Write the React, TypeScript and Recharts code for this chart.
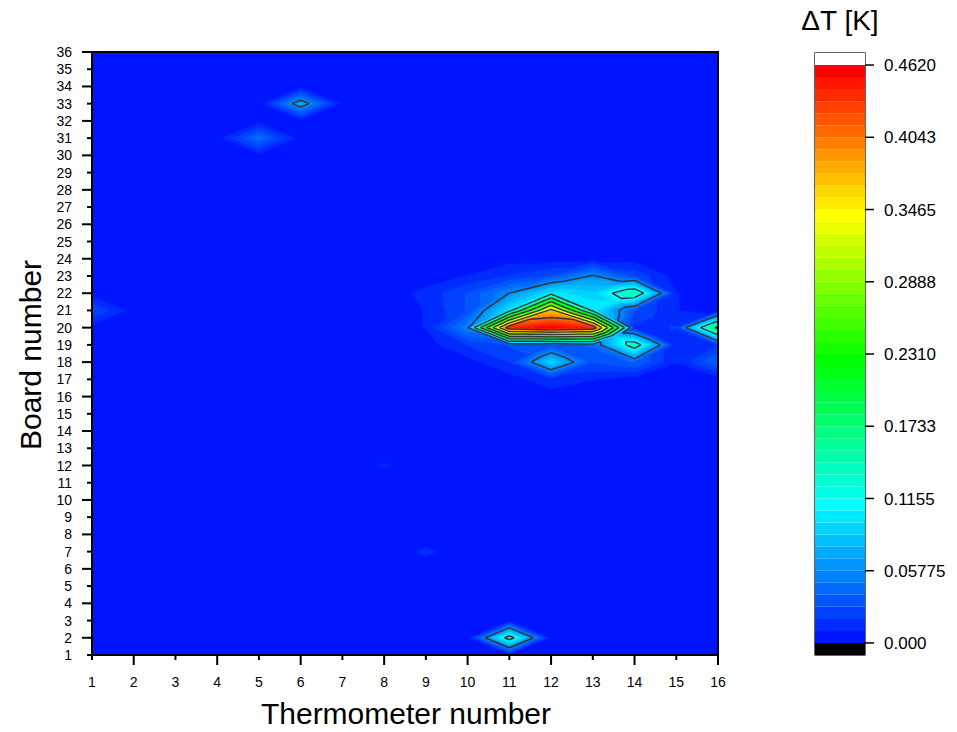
import React from 'react';
import { ScatterChart, Scatter, XAxis, YAxis, BarChart, Bar, useXAxisScale, useYAxisScale, usePlotArea } from 'recharts';

const thermometers = Array.from({ length: 16 }, (_, i) => i + 1);
const boards = Array.from({ length: 36 }, (_, i) => i + 1);

// ΔT everywhere not listed below
const baseDeltaT = 0.005;

// [thermometer, board, ΔT in K] around the hot spot at board 20
const clusterSpots: [number, number, number][] = [
  [10, 23, 0.01], [11, 23, 0.02], [12, 23, 0.03], [13, 23, 0.06], [14, 23, 0.027],
  [9, 22, 0.012], [10, 22, 0.03], [11, 22, 0.058], [12, 22, 0.1], [13, 22, 0.09], [14, 22, 0.145], [15, 22, 0.01],
  [9, 21, 0.01], [10, 21, 0.03], [11, 21, 0.1], [12, 21, 0.365], [13, 21, 0.105], [14, 21, 0.03], [15, 21, 0.01],
  [9, 20, 0.01], [10, 20, 0.055], [11, 20, 0.44], [12, 20, 0.46], [13, 20, 0.44], [14, 20, 0.015], [15, 20, 0.02], [16, 20, 0.185],
  [10, 19, 0.02], [11, 19, 0.03], [12, 19, 0.03], [13, 19, 0.04], [14, 19, 0.135], [15, 19, 0.01], [16, 19, 0.02],
  [11, 18, 0.02], [12, 18, 0.092], [13, 18, 0.03], [14, 18, 0.04], [15, 18, 0.01], [16, 18, 0.04],
  [12, 17, 0.015], [13, 17, 0.01],
];

// small isolated spots
const isolatedSpots: [number, number, number][] = [
  [1, 21, 0.03], [5, 31, 0.045], [6, 33, 0.071], [11, 2, 0.13], [9, 7, 0.0112], [8, 12, 0.0104],
];

const levelCount = 48;
const maxDeltaT = 0.462;
const levelStep = maxDeltaT / levelCount;
const contourLines = [0.05775, 0.1155, 0.17325, 0.231, 0.28875, 0.3465, 0.40425];
const scaleTicks = [0, 0.05775, 0.1155, 0.17325, 0.231, 0.28875, 0.3465, 0.40425, 0.462];
const scaleLabels = ['0.000', '0.05775', '0.1155', '0.1733', '0.2310', '0.2888', '0.3465', '0.4043', '0.4620'];

const rainbow = (t: number) => {
  const c = (v: number) => Math.round(Math.max(0, Math.min(1, v)) * 255);
  let r = 0, g = 0, b = 0;
  if (t <= 0.25) { g = t / 0.25; b = 1; }
  else if (t <= 0.5) { g = 1; b = 1 - (t - 0.25) / 0.25; }
  else if (t <= 0.75) { r = (t - 0.5) / 0.25; g = 1; }
  else { r = 1; g = 1 - (t - 0.75) / 0.25; }
  return `rgb(${c(r)},${c(g)},${c(b)})`;
};
const bandColor = (k: number) => (k >= levelCount ? '#ffffff' : rainbow((k + 1) / levelCount));

// grid of values
const grid: number[][] = boards.map(() => thermometers.map(() => baseDeltaT));
[...clusterSpots, ...isolatedSpots].forEach(([x, y, v]) => { grid[y - 1][x - 1] = v; });
const val = (x: number, y: number) => grid[y - 1][x - 1];

type P = { x: number; y: number; v: number };
const triangles: P[][] = [];
for (let y = 1; y < boards.length; y++) {
  for (let x = 1; x < thermometers.length; x++) {
    const c = [
      { x, y, v: val(x, y) },
      { x: x + 1, y, v: val(x + 1, y) },
      { x: x + 1, y: y + 1, v: val(x + 1, y + 1) },
      { x, y: y + 1, v: val(x, y + 1) },
    ];
    const s = c.map((p) => p.v).sort((a, b) => a - b);
    const m = { x: x + 0.5, y: y + 0.5, v: (s[1] + s[2]) / 2 };
    for (let i = 0; i < 4; i++) triangles.push([c[i], c[(i + 1) % 4], m]);
  }
}

const clipAbove = (poly: P[], t: number) => {
  const out: P[] = [];
  for (let i = 0; i < poly.length; i++) {
    const a = poly[i], b = poly[(i + 1) % poly.length];
    const ia = a.v >= t, ib = b.v >= t;
    if (ia) out.push(a);
    if (ia !== ib) {
      const f = (t - a.v) / (b.v - a.v);
      out.push({ x: a.x + f * (b.x - a.x), y: a.y + f * (b.y - a.y), v: t });
    }
  }
  return out;
};

const asFn = (s: any) => (typeof s === 'function' ? (v: number) => s(v) : (v: number) => s.map(v));

const ContourLayer = () => {
  const xs: any = useXAxisScale();
  const ys: any = useYAxisScale();
  if (!xs || !ys) return null;
  const fx = asFn(xs), fy = asFn(ys);
  const pt = (p: P) => `${fx(p.x).toFixed(2)},${fy(p.y).toFixed(2)}`;
  const fills: React.ReactNode[] = [];
  for (let k = 1; k <= levelCount; k++) {
    const t = k * levelStep;
    let d = '';
    triangles.forEach((tri) => {
      if (Math.max(tri[0].v, tri[1].v, tri[2].v) < t) return;
      const poly = clipAbove(tri, t);
      if (poly.length >= 3) d += 'M' + poly.map(pt).join('L') + 'Z';
    });
    if (d) fills.push(<path key={k} d={d} fill={bandColor(k)} stroke={bandColor(k)} strokeWidth={0.4} />);
  }
  const lines = contourLines.map((L, i) => {
    let d = '';
    triangles.forEach((tri) => {
      const hits: P[] = [];
      for (let j = 0; j < 3; j++) {
        const a = tri[j], b = tri[(j + 1) % 3];
        if ((a.v >= L) !== (b.v >= L)) {
          const f = (L - a.v) / (b.v - a.v);
          hits.push({ x: a.x + f * (b.x - a.x), y: a.y + f * (b.y - a.y), v: L });
        }
      }
      if (hits.length === 2) d += 'M' + pt(hits[0]) + 'L' + pt(hits[1]);
    });
    return <path key={i} d={d} fill="none" stroke="#333333" strokeWidth={1.4} strokeLinejoin="round" />;
  });
  const x0 = fx(1), x1 = fx(16), y0 = fy(36), y1 = fy(1);
  return (
    <g>
      <rect x={x0} y={y0} width={x1 - x0} height={y1 - y0} fill={bandColor(0)} />
      {fills}
      {lines}
      <rect x={x0} y={y0} width={x1 - x0} height={y1 - y0} fill="none" stroke="#000" strokeWidth={2} />
    </g>
  );
};

const font = 'Liberation Sans, Arial, sans-serif';

const XTick = (p: any) => {
  const v = p.payload.value;
  const len = v % 2 === 0 ? 10 : 5;
  return (
    <g>
      <line x1={p.x} x2={p.x} y1={p.y} y2={p.y + len} stroke="#000" strokeWidth={2} />
      <text x={p.x} y={p.y + 32} textAnchor="middle" fontSize={14} fontFamily={font} fill="#000">{v}</text>
    </g>
  );
};

const YTick = (p: any) => {
  const v = p.payload.value;
  const len = v % 2 === 0 ? 10 : 5;
  return (
    <g>
      <line x1={p.x - len} x2={p.x} y1={p.y} y2={p.y} stroke="#000" strokeWidth={2} />
      <text x={p.x - 20} y={p.y} dy="0.36em" textAnchor="end" fontSize={14} fontFamily={font} fill="#000">{v}</text>
    </g>
  );
};

const AxisTitles = () => (
  <g fontFamily={font} fontSize={30} fill="#000">
    <text x={406} y={724} textAnchor="middle">Thermometer number</text>
    <text x={41} y={355} textAnchor="middle" transform="rotate(-90, 41, 355)">Board number</text>
  </g>
);

const peaks = [...clusterSpots, ...isolatedSpots].map(([x, y, v]) => ({ x, y, v }));

// colour bar: one stacked column of bands
const bandKeys = ['below', ...Array.from({ length: levelCount }, (_, k) => `b${k}`), 'above'];
const barRow: Record<string, any> = { name: 'ΔT' };
bandKeys.forEach((key) => { barRow[key] = key === 'below' ? -levelStep : levelStep; });
const barData = [barRow];

const BarFrame = () => {
  const a: any = usePlotArea();
  if (!a) return null;
  return (
    <g>
      <rect x={a.x} y={a.y} width={a.width} height={a.height} fill="none" stroke="#000" strokeWidth={1.2} />
      <text x={a.x + 25} y={30} textAnchor="middle" fontSize={28} fontFamily={font} fill="#000">ΔT [K]</text>
    </g>
  );
};

export default function App() {
  return (
    <div style={{ position: 'relative', width: 957, height: 732, margin: -8, background: '#fff' }}>
      <div style={{ position: 'absolute', left: 0, top: 0 }}>
        <ScatterChart width={740} height={732} margin={{ top: 52, right: 22, bottom: 47, left: 52 }} style={{ overflow: 'visible' }}>
          <XAxis
            type="number"
            dataKey="x"
            domain={[1, 16]}
            ticks={thermometers}
            interval={0}
            allowDataOverflow
            axisLine={false}
            tickLine={false}
            tickSize={0}
            tickMargin={0}
            height={30}
            tick={XTick}
          />
          <YAxis
            type="number"
            dataKey="y"
            domain={[1, 36]}
            ticks={boards}
            interval={0}
            allowDataOverflow
            axisLine={false}
            tickLine={false}
            tickSize={0}
            tickMargin={0}
            width={40}
            tick={YTick}
          />
          <ContourLayer />
          <Scatter data={peaks} fill="none" shape={() => <g />} isAnimationActive={false} />
          <AxisTitles />
        </ScatterChart>
      </div>
      <div style={{ position: 'absolute', left: 790, top: 0 }}>
        <BarChart
          width={167}
          height={732}
          data={barData}
          margin={{ top: 53, right: 0, bottom: 77, left: 25 }}
          stackOffset="sign"
          barCategoryGap={0}
          barGap={0}
        >
          <XAxis dataKey="name" hide />
          <YAxis
            orientation="right"
            type="number"
            domain={[-levelStep, maxDeltaT + levelStep]}
            allowDataOverflow
            ticks={scaleTicks}
            interval={0}
            tickFormatter={(v: number) => scaleLabels[scaleTicks.indexOf(v)] ?? ''}
            axisLine={false}
            tickSize={9}
            tickMargin={10}
            tickLine={{ stroke: '#000', strokeWidth: 1.5 }}
            tick={{ fill: '#000', fontSize: 17, fontFamily: font }}
            width={92}
          />
          {bandKeys.map((key, i) => (
            <Bar
              key={key}
              dataKey={key}
              stackId="scale"
              fill={key === 'below' ? '#000000' : key === 'above' ? '#ffffff' : bandColor(i - 1)}
              isAnimationActive={false}
            />
          ))}
          <BarFrame />
        </BarChart>
      </div>
    </div>
  );
}
